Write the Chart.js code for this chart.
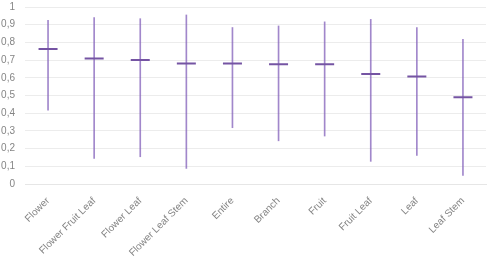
<!DOCTYPE html>
<html>
<head>
<meta charset="utf-8">
<script src="https://cdn.jsdelivr.net/npm/chart.js@4/dist/chart.umd.min.js"></script>
<style>
  html, body { margin: 0; padding: 0; background: #fff; }
  #wrap { width: 488px; height: 256px; }
</style>
</head>
<body>
<div id="wrap"><canvas id="range-chart" width="488" height="256"></canvas></div>
<script>
// values
const categories = ["Flower", "Flower Fruit Leaf", "Flower Leaf", "Flower Leaf Stem", "Entire",
  "Branch", "Fruit", "Fruit Leaf", "Leaf", "Leaf Stem"];
const minValues  = [0.417, 0.145, 0.154, 0.088, 0.318, 0.244, 0.271, 0.128, 0.162, 0.049];
const maxValues  = [0.925, 0.940, 0.934, 0.955, 0.884, 0.893, 0.916, 0.930, 0.884, 0.818];
const meanValues = [0.763, 0.709, 0.700, 0.681, 0.681, 0.677, 0.677, 0.622, 0.607, 0.490];

const purple = "#7554a3";
const lightPurple = "rgba(130, 95, 185, 0.75)";

const ctx = document.getElementById("range-chart").getContext("2d");

new Chart(ctx, {
  type: "bar",
  data: {
    labels: categories,
    datasets: [
      {
        type: "line",
        label: "Mean",
        data: meanValues,
        showLine: false,
        pointStyle: "line",
        pointRadius: 9.5,
        pointHoverRadius: 9.5,
        pointBorderWidth: 2,
        borderColor: purple,
        backgroundColor: purple,
        order: 0
      },
      {
        label: "Range",
        data: minValues.map((v, i) => [v, maxValues[i]]),
        backgroundColor: lightPurple,
        barThickness: 1,
        borderSkipped: false,
        order: 1
      }
    ]
  },
  options: {
    responsive: false,
    animation: false,
    layout: { autoPadding: false, padding: { top: 7, right: 2, left: 0, bottom: 0 } },
    plugins: {
      legend: { display: false },
      tooltip: { enabled: false }
    },
    scales: {
      x: {
        grid: { display: false },
        border: { color: "#e6e6e6" },
        ticks: {
          color: "#858585",
          font: { family: "Liberation Sans", size: 10 },
          maxRotation: 45,
          minRotation: 45,
          autoSkip: false,
          padding: 3
        },
        afterFit: (s) => { s.height = 72; s.paddingLeft = 0; s.paddingRight = 0; }
      },
      y: {
        min: 0,
        max: 1,
        grid: { color: "#ececec", drawTicks: false },
        border: { display: false },
        ticks: {
          stepSize: 0.1,
          color: "#858585",
          padding: 10,
          font: { family: "Liberation Sans", size: 10 },
          callback: (v) => Number(v.toFixed(1)).toString().replace(".", ",")
        },
        afterFit: (s) => { s.width = 25; s.paddingTop = 0; s.paddingBottom = 0; }
      }
    }
  }
});
</script>
</body>
</html>
